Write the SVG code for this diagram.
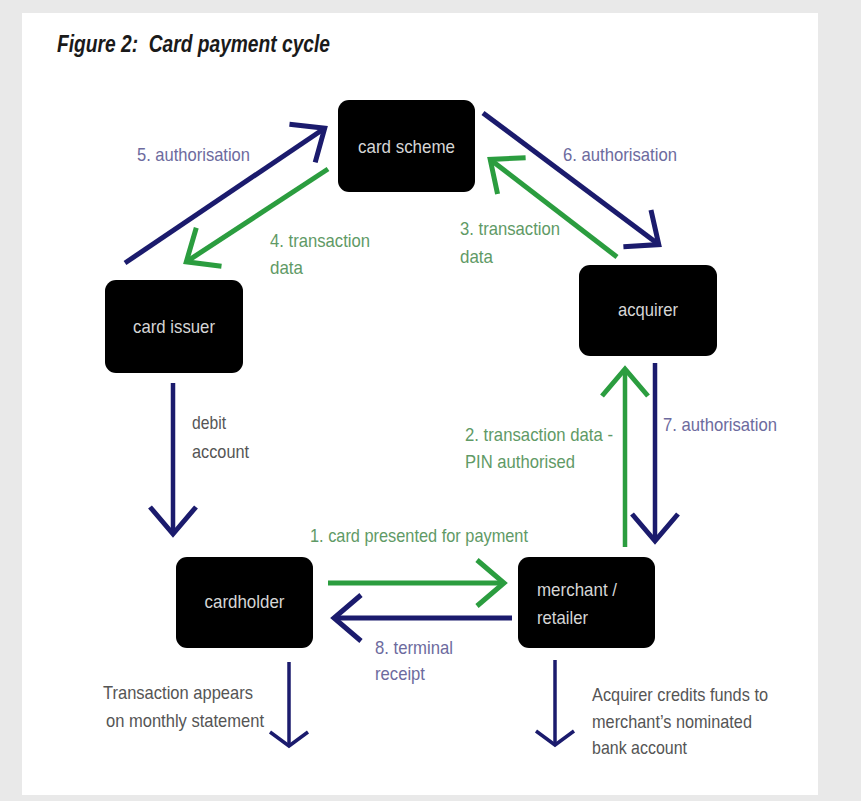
<svg xmlns="http://www.w3.org/2000/svg" width="861" height="801" viewBox="0 0 861 801">
<style>
text{font-family:"Liberation Sans",Arial,sans-serif;font-size:19px}
.title{font-weight:bold;font-style:italic;font-size:24px;fill:#1a1a1a}
.node rect{fill:#000}
.node text{fill:#d6d6d6;font-size:18.5px}
.nl{fill:#6d6b9e}
.gl{fill:#5f9a66}
.tl{fill:#555}
.nv{stroke:#1b1b6d;fill:none}
.gr{stroke:#2b9d3f;fill:none}
</style>
<defs>
<marker id="hn" markerUnits="userSpaceOnUse" orient="auto" refX="0" refY="0" markerWidth="50" markerHeight="60" viewBox="-35 -30 50 60" overflow="visible"><path d="M-27,-23 L0,0 L-27,23" fill="none" stroke="#1b1b6d" stroke-width="5" stroke-linejoin="miter"/></marker>
<marker id="hg" markerUnits="userSpaceOnUse" orient="auto" refX="0" refY="0" markerWidth="50" markerHeight="60" viewBox="-35 -30 50 60" overflow="visible"><path d="M-27,-23 L0,0 L-27,23" fill="none" stroke="#2b9d3f" stroke-width="5" stroke-linejoin="miter"/></marker>
<marker id="hs" markerUnits="userSpaceOnUse" orient="auto" refX="0" refY="0" markerWidth="40" markerHeight="50" viewBox="-25 -25 40 50" overflow="visible"><path d="M-14,-19 L0,0 L-14,19" fill="none" stroke="#1b1b6d" stroke-width="3.5" stroke-linejoin="miter"/></marker>
</defs>
<rect x="0" y="0" width="861" height="801" fill="#e9e9e9"/>
<rect x="22" y="13" width="796" height="782" fill="#fff"/>
<text class="title" x="57" y="52" xml:space="preserve" textLength="273" lengthAdjust="spacingAndGlyphs">Figure 2:  Card payment cycle</text>

<g id="connectors">
<line class="nv" stroke-width="5" x1="125" y1="263" x2="324.7" y2="128.2" marker-end="url(#hn)"/>
<line class="gr" stroke-width="5" x1="328" y1="169" x2="186.3" y2="261.8" marker-end="url(#hg)"/>
<line class="nv" stroke-width="5" x1="483" y1="113" x2="658.8" y2="244.6" marker-end="url(#hn)"/>
<line class="gr" stroke-width="5" x1="617" y1="257" x2="490.2" y2="159.4" marker-end="url(#hg)"/>
<line class="gr" stroke-width="4.5" x1="625" y1="547" x2="625" y2="369" marker-end="url(#hg)"/>
<line class="nv" stroke-width="4.5" x1="655" y1="363" x2="655" y2="541" marker-end="url(#hn)"/>
<line class="nv" stroke-width="4.5" x1="173" y1="383" x2="173" y2="534" marker-end="url(#hn)"/>
<line class="gr" stroke-width="5" x1="328" y1="583" x2="504" y2="583" marker-end="url(#hg)"/>
<line class="nv" stroke-width="5" x1="512" y1="618" x2="334" y2="618" marker-end="url(#hn)"/>
<line class="nv" stroke-width="3.5" x1="289" y1="662" x2="289" y2="746" marker-end="url(#hs)"/>
<line class="nv" stroke-width="3.5" x1="555" y1="660" x2="555" y2="745" marker-end="url(#hs)"/>

<text class="nl" x="137" y="161" textLength="113" lengthAdjust="spacingAndGlyphs">5. authorisation</text>
<text class="nl" x="563" y="161" textLength="114" lengthAdjust="spacingAndGlyphs">6. authorisation</text>
<text class="gl" x="270" y="247" textLength="100" lengthAdjust="spacingAndGlyphs">4. transaction</text>
<text class="gl" x="270" y="274" textLength="33" lengthAdjust="spacingAndGlyphs">data</text>
<text class="gl" x="460" y="235" textLength="100" lengthAdjust="spacingAndGlyphs">3. transaction</text>
<text class="gl" x="460" y="263" textLength="33" lengthAdjust="spacingAndGlyphs">data</text>
<text class="gl" x="465" y="441" textLength="148" lengthAdjust="spacingAndGlyphs">2. transaction data -</text>
<text class="gl" x="465" y="468" textLength="110" lengthAdjust="spacingAndGlyphs">PIN authorised</text>
<text class="nl" x="663" y="431" textLength="114" lengthAdjust="spacingAndGlyphs">7. authorisation</text>
<text class="tl" x="192" y="429" textLength="34" lengthAdjust="spacingAndGlyphs">debit</text>
<text class="tl" x="192" y="458" textLength="57" lengthAdjust="spacingAndGlyphs">account</text>
<text class="gl" x="310" y="542" textLength="218" lengthAdjust="spacingAndGlyphs">1. card presented for payment</text>
<text class="nl" x="375" y="654" textLength="78" lengthAdjust="spacingAndGlyphs">8. terminal</text>
<text class="nl" x="375" y="680" textLength="50" lengthAdjust="spacingAndGlyphs">receipt</text>
<text class="tl" x="103" y="699" textLength="150" lengthAdjust="spacingAndGlyphs">Transaction appears</text>
<text class="tl" x="106" y="727" textLength="158" lengthAdjust="spacingAndGlyphs">on monthly statement</text>
<text class="tl" x="592" y="701" textLength="176" lengthAdjust="spacingAndGlyphs">Acquirer credits funds to</text>
<text class="tl" x="592" y="728" textLength="160" lengthAdjust="spacingAndGlyphs">merchant’s nominated</text>
<text class="tl" x="592" y="754" textLength="95" lengthAdjust="spacingAndGlyphs">bank account</text>
</g>

<g id="card-scheme" class="node"><rect x="338" y="100" width="137" height="92" rx="11"/><text x="406.5" y="153" text-anchor="middle" textLength="97" lengthAdjust="spacingAndGlyphs">card scheme</text></g>
<g id="acquirer" class="node"><rect x="579" y="265" width="138" height="91" rx="11"/><text x="648" y="316" text-anchor="middle" textLength="60" lengthAdjust="spacingAndGlyphs">acquirer</text></g>
<g id="card-issuer" class="node"><rect x="105" y="280" width="138" height="93" rx="11"/><text x="174" y="333" text-anchor="middle" textLength="82" lengthAdjust="spacingAndGlyphs">card issuer</text></g>
<g id="cardholder" class="node"><rect x="176" y="557" width="137" height="91" rx="11"/><text x="244.5" y="608" text-anchor="middle" textLength="80" lengthAdjust="spacingAndGlyphs">cardholder</text></g>
<g id="merchant" class="node"><rect x="518" y="557" width="137" height="91" rx="11"/><text x="537" y="596" textLength="80" lengthAdjust="spacingAndGlyphs">merchant /</text><text x="537" y="624" textLength="51" lengthAdjust="spacingAndGlyphs">retailer</text></g>
</svg>
